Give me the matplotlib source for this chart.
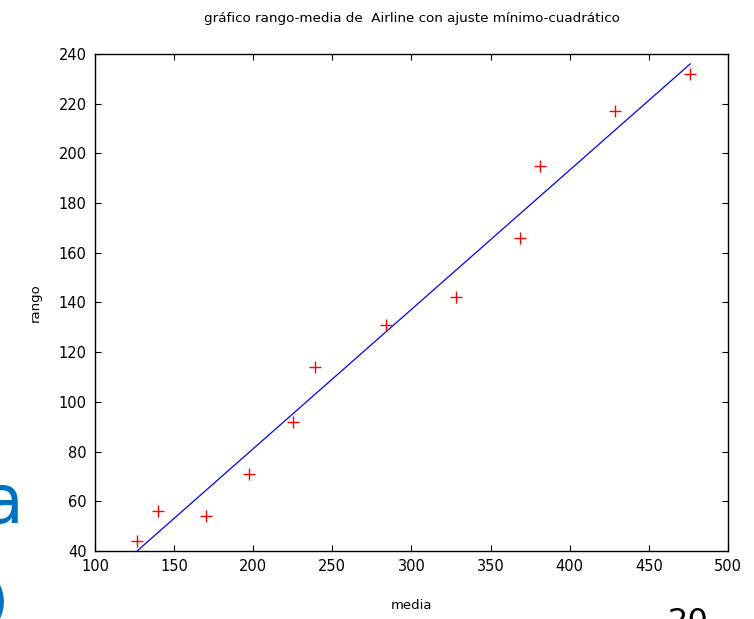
import numpy as np
import matplotlib.pyplot as plt

# annual mean and range of the Airline series (1949-1960)
media = [126.67, 139.67, 170.17, 197.0, 225.0, 238.92,
         284.0, 328.25, 368.42, 381.0, 428.33, 476.17]
rango = [44, 56, 54, 71, 92, 114, 131, 142, 166, 195, 217, 232]
xticks = [100, 150, 200, 250, 300, 350, 400, 450, 500]
yticks = [40, 60, 80, 100, 120, 140, 160, 180, 200, 220, 240]

# least squares fit rango = a + b*media
b, a = np.polyfit(media, rango, 1)
xfit = np.array([min(media), max(media)])
yfit = a + b*xfit

fig = plt.figure(figsize=(7.54, 6.19), dpi=100)
ax = fig.add_axes([0.126, 0.110, 0.8395, 0.8029])

ax.plot(xfit, yfit, color='blue', lw=0.9)
ax.plot(media, rango, '+', color='red', markersize=9, markeredgewidth=1.0)

ax.set_xlim(100, 500)
ax.set_ylim(40, 240)
ax.set_xticks(xticks)
ax.set_yticks(yticks)
ax.tick_params(direction='in', length=4, width=0.8, top=True, right=True,
               labelsize=10.5, pad=6)
for s in ax.spines.values():
    s.set_linewidth(1.0)

ax.set_title('gráfico rango-media de  Airline con ajuste mínimo-cuadrático',
             fontsize=9.7, pad=23)
ax.set_xlabel('media', fontsize=9.5, labelpad=18)
ax.set_ylabel('rango', fontsize=9.5, labelpad=12)

# bits of the slide behind the chart
fig.text(-0.022, 0.155, 'a', fontsize=48, color='#0070C0')
fig.text(-0.018, 0.0, ')', fontsize=40, color='#0070C0')
fig.text(0.886, -0.02, '20', fontsize=23, color='black')

fig.savefig('out.png', dpi=100)
